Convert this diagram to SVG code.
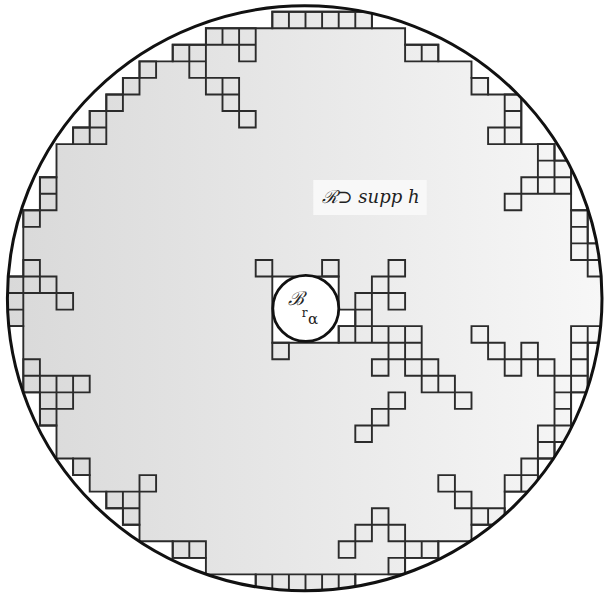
<svg xmlns="http://www.w3.org/2000/svg" width="604" height="596" viewBox="0 0 604 596">
<defs>
<linearGradient id="g" x1="0" y1="0" x2="1" y2="0"><stop offset="0" stop-color="#d9d9d9"/><stop offset="1" stop-color="#f7f7f7"/></linearGradient>
<clipPath id="cc"><ellipse cx="304.7" cy="298.3" rx="297.3" ry="292.5"/></clipPath>
</defs>
<style>
.ln{stroke:#2b2b2b;stroke-width:1.9;vector-effect:non-scaling-stroke;stroke-linejoin:miter}
.t{font-family:"DejaVu Serif","Liberation Serif",serif;font-style:italic;fill:#222}
</style>
<rect width="604" height="596" fill="#fff"/>
<g clip-path="url(#cc)">
<g id="region" transform="translate(6.7 11.7) scale(16.6 16.55)">
<path class="ln" fill="url(#g)" d="M16 0H22V1H24V2H26V3H28V4H29V5H31V8H33V9H34V12H35V14H36V20H35V23H34V26H33V27H32V29H30V31H28V32H26V33H24V34H21V35H15V34H12V33H10V32H8V31H7V30H6V29H5V28H4V27H3V25H2V23H1V19H0V16H1V12H2V10H3V8H4V7H5V6H6V5H7V4H8V3H10V2H12V1H16Z"/>
<path class="ln" fill="#fff" d="M16 16H20V18H21V19H20V20H16Z"/>
<path id="cells" class="ln" fill="none" d="M16 0h1v1h-1zM17 0h1v1h-1zM18 0h1v1h-1zM19 0h1v1h-1zM20 0h1v1h-1zM21 0h1v1h-1z
M12 1h1v1h-1zM13 1h1v1h-1zM14 1h1v1h-1z
M10 2h1v1h-1zM11 2h1v1h-1zM14 2h1v1h-1zM24 2h1v1h-1zM25 2h1v1h-1z
M8 3h1v1h-1zM11 3h1v1h-1z
M7 4h1v1h-1zM12 4h1v1h-1zM13 4h1v1h-1zM28 4h1v1h-1z
M6 5h1v1h-1zM13 5h1v1h-1zM30 5h1v1h-1z
M5 6h1v1h-1zM14 6h1v1h-1zM30 6h1v1h-1z
M4 7h1v1h-1zM5 7h1v1h-1zM29 7h1v1h-1zM30 7h1v1h-1z
M32 8h1v1h-1zM32 9h1v1h-1zM33 9h1v1h-1z
M2 10h1v1h-1zM31 10h1v1h-1zM32 10h1v1h-1zM33 10h1v1h-1z
M2 11h1v1h-1zM30 11h1v1h-1z
M1 12h1v1h-1zM34 12h1v1h-1zM34 13h1v1h-1zM34 14h1v1h-1zM35 14h1v1h-1z
M1 15h1v1h-1zM15 15h1v1h-1zM19 15h1v1h-1zM23 15h1v1h-1zM35 15h1v1h-1z
M0 16h1v1h-1zM1 16h1v1h-1zM2 16h1v1h-1zM22 16h1v1h-1z
M0 17h1v1h-1zM3 17h1v1h-1zM21 17h1v1h-1zM23 17h1v1h-1z
M0 18h1v1h-1zM21 18h1v1h-1z
M34 19h1v1h-1zM35 19h1v1h-1zM20 19h1v1h-1zM21 19h1v1h-1zM22 19h1v1h-1zM23 19h1v1h-1zM24 19h1v1h-1zM28 19h1v1h-1z
M16 20h1v1h-1zM23 20h1v1h-1zM24 20h1v1h-1zM29 20h1v1h-1zM31 20h1v1h-1zM34 20h1v1h-1z
M1 21h1v1h-1zM22 21h1v1h-1zM24 21h1v1h-1zM25 21h1v1h-1zM30 21h1v1h-1zM32 21h1v1h-1zM34 21h1v1h-1z
M1 22h1v1h-1zM2 22h1v1h-1zM3 22h1v1h-1zM4 22h1v1h-1zM25 22h1v1h-1zM26 22h1v1h-1zM33 22h1v1h-1zM34 22h1v1h-1z
M2 23h1v1h-1zM3 23h1v1h-1zM23 23h1v1h-1zM27 23h1v1h-1zM33 23h1v1h-1z
M2 24h1v1h-1zM22 24h1v1h-1zM33 24h1v1h-1z
M21 25h1v1h-1zM32 25h1v1h-1zM33 25h1v1h-1z
M32 26h1v1h-1z
M4 27h1v1h-1zM31 27h1v1h-1z
M8 28h1v1h-1zM26 28h1v1h-1zM30 28h1v1h-1zM31 28h1v1h-1z
M6 29h1v1h-1zM7 29h1v1h-1zM27 29h1v1h-1z
M7 30h1v1h-1zM22 30h1v1h-1zM28 30h1v1h-1zM29 30h1v1h-1z
M21 31h1v1h-1zM23 31h1v1h-1z
M10 32h1v1h-1zM11 32h1v1h-1zM20 32h1v1h-1zM24 32h1v1h-1zM25 32h1v1h-1z
M23 33h1v1h-1z
M15 34h1v1h-1zM16 34h1v1h-1zM17 34h1v1h-1zM18 34h1v1h-1zM19 34h1v1h-1zM20 34h1v1h-1z"/>
</g>
</g>
<ellipse cx="304.7" cy="298.3" rx="297.3" ry="292.5" fill="none" stroke="#111" stroke-width="3"/>
<g id="ball">
<circle cx="305.8" cy="308.4" r="33" fill="#fff" stroke="#111" stroke-width="2.8"/>
<text class="t" x="287.5" y="305" font-size="19">ℬ<tspan font-size="12" font-style="normal" x="301.8" y="316.5">r</tspan><tspan font-size="15" font-style="normal" x="308" y="323.5">α</tspan></text>
</g>
<g id="label">
<rect x="313.3" y="180" width="113.4" height="35" fill="#f8f8f8"/>
<text class="t" x="321.5" y="203" font-size="18">ℛ⊃ supp h</text>
</g>
</svg>
